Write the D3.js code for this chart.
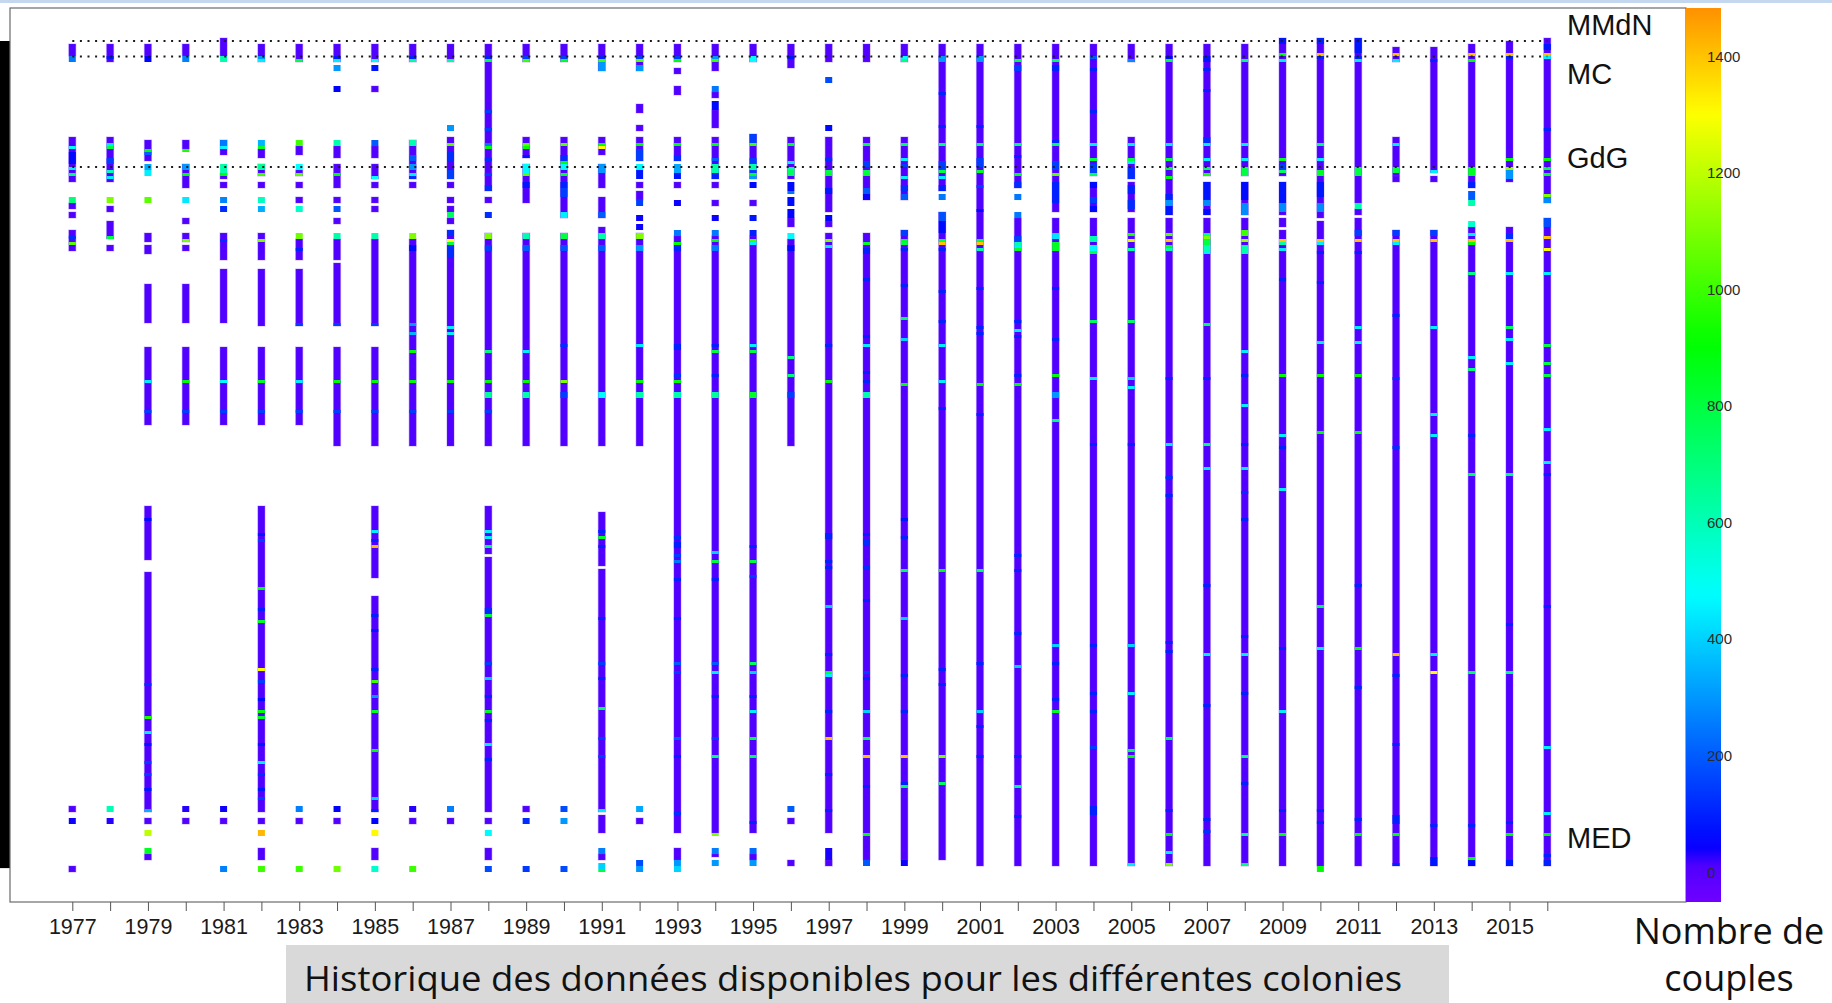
<!DOCTYPE html>
<html>
<head>
<meta charset="utf-8">
<script src="https://cdn.jsdelivr.net/npm/d3@7"></script>
<style>
  body { margin: 0; background: #fff; }
  svg { display: block; }
</style>
</head>
<body>
<svg width="1832" height="1003"></svg>
<script>
// years on the x axis (one column each)
const years = [1977,1978,1979,1980,1981,1982,1983,1984,1985,1986,1987,1988,1989,1990,1991,1992,1993,1994,1995,1996,
               1997,1998,1999,2000,2001,2002,2003,2004,2005,2006,2007,2008,2009,2010,2011,2012,2013,2014,2015,2016];

// colonies are rows 0..278 (ordered north -> south)
const ROWS = 278;

// base coverage: [year, firstRow, lastRow(excl), couples]
const coverage = [
  [1977,2,6,10],[1977,33,48,10],[1977,55,57,10],[1977,58,60,10],[1977,64,71,10],[1977,256,258,10],[1977,276,278,10],
  [1978,2,8,10],[1978,33,48,10],[1978,56,58,10],[1978,61,67,10],[1978,69,71,10],
  [1979,2,6,10],[1979,34,41,10],[1979,65,68,10],[1979,69,72,10],[1979,82,95,10],[1979,103,129,10],[1979,156,174,10],[1979,178,258,10],[1979,260,262,10],[1979,272,274,10],
  [1980,2,6,10],[1980,34,37,10],[1980,42,50,10],[1980,60,62,10],[1980,65,68,10],[1980,69,71,10],[1980,82,95,10],[1980,103,129,10],[1980,260,262,10],
  [1981,0,6,10],[1981,34,39,10],[1981,45,47,10],[1981,48,50,10],[1981,65,74,10],[1981,77,95,10],[1981,103,129,10],[1981,260,262,10],
  [1982,2,8,10],[1982,37,40,10],[1982,42,46,10],[1982,48,50,10],[1982,65,74,10],[1982,77,96,10],[1982,103,129,10],[1982,156,258,10],[1982,260,262,10],[1982,270,274,10],
  [1983,2,8,10],[1983,36,39,10],[1983,44,46,10],[1983,48,50,10],[1983,53,55,10],[1983,67,74,10],[1983,77,96,10],[1983,103,129,10],[1983,260,262,10],
  [1984,2,8,10],[1984,36,40,10],[1984,42,50,10],[1984,53,55,10],[1984,60,62,10],[1984,67,74,10],[1984,75,96,10],[1984,103,136,10],[1984,260,262,10],
  [1985,2,8,10],[1985,16,18,10],[1985,36,40,10],[1985,42,47,10],[1985,48,50,10],[1985,53,55,10],[1985,56,58,10],[1985,67,96,10],[1985,103,136,10],[1985,156,180,10],[1985,186,258,10],[1985,270,274,10],
  [1986,2,8,10],[1986,34,47,10],[1986,48,50,10],[1986,67,136,10],[1986,260,262,10],
  [1987,2,8,10],[1987,33,47,10],[1987,48,50,10],[1987,53,55,10],[1987,56,58,10],[1987,60,62,10],[1987,64,136,10],[1987,260,262,10],
  [1988,2,51,10],[1988,53,55,10],[1988,65,136,10],[1988,156,172,10],[1988,173,258,10],[1988,260,262,10],[1988,270,274,10],
  [1989,2,8,10],[1989,33,40,10],[1989,42,55,10],[1989,65,136,10],[1989,256,258,10],
  [1990,2,8,10],[1990,33,60,10],[1990,65,136,10],
  [1991,2,11,10],[1991,33,39,10],[1991,42,50,10],[1991,53,60,10],[1991,63,136,10],[1991,158,176,10],[1991,177,258,10],[1991,259,265,10],[1991,272,274,10],
  [1992,2,11,10],[1992,22,25,10],[1992,29,31,10],[1992,33,41,10],[1992,48,50,10],[1992,51,54,10],[1992,65,136,10],[1992,260,262,10],
  [1993,2,8,10],[1993,10,12,10],[1993,16,19,10],[1993,33,41,10],[1993,48,50,10],[1993,66,265,10],[1993,270,274,10],
  [1994,2,11,10],[1994,18,20,10],[1994,24,30,10],[1994,33,47,10],[1994,48,50,10],[1994,54,56,10],[1994,66,265,10],[1994,272,273,10],
  [1995,2,8,10],[1995,32,47,10],[1995,54,56,10],[1995,66,265,10],[1995,272,274,10],
  [1996,2,10,10],[1996,33,47,10],[1996,60,63,10],[1996,67,136,10],[1996,260,262,10],[1996,274,276,10],
  [1997,2,8,10],[1997,33,58,10],[1997,61,63,10],[1997,65,265,10],[1997,274,276,10],
  [1998,2,8,10],[1998,33,54,10],[1998,65,274,10],
  [1999,2,8,10],[1999,33,54,10],[1999,64,274,10],
  [2000,2,51,10],[2000,58,274,10],
  [2001,2,276,10],
  [2002,2,50,10],[2002,60,276,10],
  [2003,2,58,10],[2003,60,276,10],
  [2004,2,46,10],[2004,48,58,10],[2004,60,276,10],
  [2005,2,8,10],[2005,33,47,10],[2005,48,58,10],[2005,60,276,10],
  [2006,2,59,10],[2006,60,276,10],
  [2007,2,46,10],[2007,48,59,10],[2007,60,276,10],
  [2008,2,46,10],[2008,48,59,10],[2008,60,276,10],
  [2009,0,46,10],[2009,48,59,10],[2009,60,63,10],[2009,64,276,10],
  [2010,0,60,10],[2010,61,276,10],
  [2011,0,55,10],[2011,57,59,10],[2011,60,276,10],
  [2012,3,8,10],[2012,33,46,10],[2012,46,48,10],[2012,64,276,10],
  [2013,3,45,10],[2013,46,48,10],[2013,64,276,10],
  [2014,2,50,10],[2014,63,276,10],
  [2015,1,48,10],[2015,63,276,10],
  [2016,0,55,10],[2016,60,276,10]
];

// colonies / years with notable counts: [year, firstRow, lastRow(excl), couples]
const counts = [
  [1977,6,8,250],[1977,36,37,500],[1977,38,42,60],[1977,43,44,450],[1977,45,46,700],[1977,53,55,700],[1977,66,67,120],[1977,68,69,1050],[1977,260,262,40],
  [1978,6,7,80],[1978,35,36,450],[1978,36,37,800],[1978,40,42,150],[1978,44,45,600],[1978,46,47,450],[1978,53,55,1100],[1978,66,67,800],[1978,256,258,600],[1978,260,262,30],
  [1979,6,8,50],[1979,37,38,900],[1979,38,39,200],[1979,42,44,330],[1979,44,46,450],[1979,53,55,1050],[1979,114,115,450],[1979,124,125,150],[1979,160,161,60],[1979,215,216,120],[1979,226,227,950],[1979,231,232,450],[1979,235,236,80],[1979,241,242,150],[1979,245,246,150],[1979,250,251,80],[1979,257,258,350],[1979,264,266,1200],[1979,270,272,850],
  [1980,6,8,260],[1980,37,38,950],[1980,42,44,300],[1980,45,46,900],[1980,53,55,440],[1980,67,68,1100],[1980,114,115,900],[1980,124,125,150],[1980,256,258,30],
  [1981,6,8,620],[1981,34,36,250],[1981,36,37,460],[1981,42,45,620],[1981,45,46,900],[1981,53,55,270],[1981,56,58,120],[1981,67,68,120],[1981,114,115,480],[1981,124,125,150],[1981,256,258,40],[1981,276,278,260],
  [1982,6,7,300],[1982,7,8,450],[1982,34,36,350],[1982,36,37,850],[1982,42,44,650],[1982,45,46,1000],[1982,53,55,580],[1982,56,58,340],[1982,67,68,1100],[1982,114,115,850],[1982,124,125,150],[1982,165,166,80],[1982,167,168,150],[1982,183,184,900],[1982,190,191,100],[1982,194,195,850],[1982,210,211,1300],[1982,214,215,150],[1982,220,221,60],[1982,224,225,900],[1982,226,227,850],[1982,235,236,80],[1982,241,242,450],[1982,245,246,120],[1982,250,251,80],[1982,253,254,150],[1982,264,266,1420],[1982,276,278,1000],
  [1983,7,8,800],[1983,34,36,1000],[1983,42,44,480],[1983,45,46,1050],[1983,56,58,560],[1983,65,67,1080],[1983,70,71,100],[1983,95,96,150],[1983,114,115,450],[1983,124,125,150],[1983,256,258,260],[1983,276,278,1000],
  [1984,6,7,80],[1984,7,8,450],[1984,9,11,300],[1984,16,18,45],[1984,34,36,620],[1984,45,46,900],[1984,56,58,190],[1984,65,67,620],[1984,95,96,150],[1984,114,115,900],[1984,124,125,150],[1984,256,258,45],[1984,276,278,1080],
  [1985,7,8,500],[1985,9,11,80],[1985,34,36,200],[1985,46,47,480],[1985,65,67,620],[1985,95,96,150],[1985,114,115,900],[1985,124,125,150],[1985,164,165,450],[1985,167,168,100],[1985,169,170,1420],[1985,192,193,100],[1985,197,198,80],[1985,210,211,100],[1985,214,215,1000],[1985,219,220,300],[1985,224,225,850],[1985,237,238,900],[1985,253,254,400],[1985,257,258,100],[1985,260,262,50],[1985,264,266,1310],[1985,276,278,560],
  [1986,6,7,100],[1986,7,8,650],[1986,34,36,620],[1986,39,41,200],[1986,42,44,300],[1986,45,46,450],[1986,46,47,120],[1986,65,67,1100],[1986,69,71,60],[1986,95,96,300],[1986,98,99,350],[1986,104,105,900],[1986,114,115,900],[1986,124,125,150],[1986,256,258,30],[1986,276,278,1000],
  [1987,7,8,650],[1987,29,31,300],[1987,35,36,1050],[1987,38,41,120],[1987,44,47,150],[1987,58,60,750],[1987,64,66,120],[1987,67,68,1300],[1987,68,69,800],[1987,69,73,120],[1987,96,97,450],[1987,98,99,450],[1987,114,115,900],[1987,124,125,150],[1987,256,258,260],
  [1988,6,7,100],[1988,7,8,800],[1988,24,25,150],[1988,30,31,150],[1988,35,36,250],[1988,36,37,900],[1988,40,41,120],[1988,45,46,150],[1988,49,51,120],[1988,58,60,120],[1988,65,67,1100],[1988,69,71,150],[1988,104,105,700],[1988,114,115,900],[1988,118,120,650],[1988,124,125,150],[1988,164,165,450],[1988,166,167,450],[1988,169,170,700],[1988,190,192,120],[1988,192,193,800],[1988,208,209,150],[1988,213,214,400],[1988,219,220,100],[1988,224,225,850],[1988,227,228,100],[1988,235,236,450],[1988,240,241,100],[1988,264,266,470],[1988,276,278,170],
  [1989,6,7,150],[1989,7,8,1000],[1989,35,36,1050],[1989,36,37,900],[1989,39,40,80],[1989,42,45,470],[1989,45,46,1050],[1989,48,50,80],[1989,65,67,620],[1989,69,71,200],[1989,104,105,450],[1989,114,115,900],[1989,118,120,620],[1989,260,262,120],[1989,276,278,140],
  [1990,6,7,150],[1990,7,8,850],[1990,35,36,1050],[1990,39,41,120],[1990,41,42,900],[1990,42,44,470],[1990,45,46,850],[1990,48,50,100],[1990,50,53,150],[1990,58,60,450],[1990,65,67,800],[1990,69,71,180],[1990,102,103,120],[1990,114,115,1100],[1990,118,120,150],[1990,256,258,170],[1990,260,262,300],[1990,276,278,170],
  [1991,6,7,100],[1991,7,8,1000],[1991,8,11,300],[1991,35,36,900],[1991,36,37,1300],[1991,42,45,300],[1991,58,60,200],[1991,65,67,620],[1991,69,71,200],[1991,118,120,470],[1991,164,165,100],[1991,166,167,850],[1991,169,170,100],[1991,193,194,100],[1991,208,209,150],[1991,213,214,100],[1991,223,224,750],[1991,233,234,150],[1991,239,240,150],[1991,257,258,450],[1991,270,272,260],[1991,275,277,400],[1991,277,278,800],
  [1992,6,7,150],[1992,7,8,1050],[1992,9,11,300],[1992,35,36,900],[1992,37,41,150],[1992,42,44,470],[1992,44,47,80],[1992,54,56,150],[1992,59,61,40],[1992,62,64,40],[1992,65,67,1100],[1992,69,71,300],[1992,102,103,450],[1992,114,115,900],[1992,118,120,620],[1992,256,258,330],[1992,274,276,170],[1992,276,278,300],
  [1993,6,7,150],[1993,7,8,900],[1993,35,36,900],[1993,39,41,120],[1993,42,45,330],[1993,45,47,80],[1993,54,56,40],[1993,64,66,250],[1993,68,69,900],[1993,69,71,100],[1993,102,104,100],[1993,112,113,120],[1993,114,115,900],[1993,118,120,620],[1993,166,167,120],[1993,168,170,100],[1993,172,173,150],[1993,174,175,250],[1993,180,181,100],[1993,193,194,100],[1993,208,209,200],[1993,211,212,150],[1993,233,234,200],[1993,239,240,100],[1993,258,259,120],[1993,274,276,300],[1993,276,278,400],
  [1994,6,7,300],[1994,7,8,1000],[1994,16,18,250],[1994,21,24,60],[1994,35,36,900],[1994,40,41,200],[1994,42,45,620],[1994,45,47,100],[1994,59,61,40],[1994,64,66,250],[1994,67,68,900],[1994,69,71,250],[1994,102,103,100],[1994,104,105,800],[1994,112,113,100],[1994,118,120,650],[1994,171,172,400],[1994,174,175,800],[1994,180,181,100],[1994,208,209,200],[1994,211,212,450],[1994,219,220,100],[1994,233,234,150],[1994,239,240,700],[1994,265,266,1100],[1994,270,272,260],[1994,274,276,300],
  [1995,6,8,480],[1995,32,35,150],[1995,35,36,1000],[1995,40,42,150],[1995,42,44,620],[1995,44,45,150],[1995,45,46,850],[1995,46,47,300],[1995,48,50,60],[1995,59,61,80],[1995,64,66,100],[1995,67,68,1000],[1995,68,69,450],[1995,102,103,450],[1995,104,105,800],[1995,118,120,850],[1995,169,170,100],[1995,174,175,800],[1995,179,180,150],[1995,208,209,750],[1995,211,212,400],[1995,219,220,100],[1995,224,225,450],[1995,233,234,800],[1995,239,240,750],[1995,261,262,100],[1995,270,272,230],[1995,274,276,300],
  [1996,6,7,80],[1996,35,36,850],[1996,41,42,450],[1996,43,44,620],[1996,44,46,750],[1996,48,51,60],[1996,51,52,250],[1996,53,56,60],[1996,57,60,50],[1996,65,67,470],[1996,69,71,60],[1996,106,107,700],[1996,112,113,700],[1996,118,120,150],[1996,256,258,200],
  [1997,13,15,170],[1997,29,31,60],[1997,40,41,120],[1997,44,45,800],[1997,45,46,850],[1997,50,52,80],[1997,59,61,50],[1997,67,68,1100],[1997,69,70,450],[1997,102,103,100],[1997,114,115,900],[1997,165,167,100],[1997,174,175,100],[1997,176,177,100],[1997,189,190,400],[1997,205,206,100],[1997,211,212,800],[1997,212,213,450],[1997,224,225,100],[1997,233,234,1400],[1997,245,246,100],[1997,257,258,100],[1997,270,274,35],
  [1998,35,36,800],[1998,41,43,150],[1998,44,45,800],[1998,45,46,850],[1998,50,52,200],[1998,52,54,40],[1998,68,69,850],[1998,70,72,100],[1998,80,81,100],[1998,99,100,100],[1998,102,103,450],[1998,111,112,100],[1998,114,115,100],[1998,118,120,620],[1998,165,166,100],[1998,167,169,120],[1998,176,177,120],[1998,187,188,100],[1998,211,212,150],[1998,213,214,100],[1998,224,225,400],[1998,233,234,750],[1998,239,240,1400],[1998,249,250,100],[1998,265,266,900],[1998,274,276,190],
  [1999,6,7,480],[1999,7,8,700],[1999,35,36,750],[1999,40,41,450],[1999,42,43,150],[1999,46,47,450],[1999,49,51,120],[1999,52,54,200],[1999,64,66,150],[1999,67,68,850],[1999,68,69,800],[1999,70,71,100],[1999,82,83,100],[1999,93,94,750],[1999,100,101,400],[1999,115,116,900],[1999,160,161,80],[1999,166,167,100],[1999,177,178,750],[1999,193,194,400],[1999,212,213,100],[1999,224,225,100],[1999,239,240,1400],[1999,248,249,100],[1999,249,250,750],[1999,274,276,40],
  [2000,6,8,300],[2000,18,19,100],[2000,29,30,100],[2000,35,36,700],[2000,41,44,150],[2000,44,45,800],[2000,46,47,450],[2000,49,51,100],[2000,52,54,250],[2000,58,61,180],[2000,61,65,60],[2000,67,68,800],[2000,68,69,1400],[2000,70,71,100],[2000,84,85,100],[2000,94,95,100],[2000,102,103,450],[2000,114,115,450],[2000,123,124,100],[2000,177,178,900],[2000,210,211,100],[2000,215,216,100],[2000,239,240,1100],[2000,248,249,750],
  [2001,6,8,300],[2001,29,30,100],[2001,35,36,700],[2001,40,43,150],[2001,44,45,850],[2001,49,50,150],[2001,57,58,60],[2001,67,68,800],[2001,68,69,1400],[2001,70,71,620],[2001,83,84,100],[2001,96,97,100],[2001,98,99,100],[2001,115,116,900],[2001,125,126,100],[2001,177,178,750],[2001,208,209,100],[2001,224,225,400],[2001,229,230,100],[2001,239,240,100],
  [2002,7,8,800],[2002,9,11,150],[2002,35,36,700],[2002,39,40,100],[2002,45,46,850],[2002,48,50,120],[2002,52,54,250],[2002,58,60,250],[2002,66,68,150],[2002,68,69,620],[2002,69,70,450],[2002,70,71,850],[2002,94,95,100],[2002,97,98,450],[2002,99,100,100],[2002,112,113,100],[2002,115,116,900],[2002,172,173,100],[2002,177,178,100],[2002,198,199,100],[2002,209,210,400],[2002,239,240,100],[2002,249,250,650],[2002,259,260,100],
  [2003,7,8,750],[2003,9,11,100],[2003,34,35,100],[2003,35,36,750],[2003,41,44,150],[2003,45,46,1050],[2003,48,55,100],[2003,65,67,430],[2003,68,71,850],[2003,83,84,100],[2003,100,101,100],[2003,112,113,900],[2003,118,120,300],[2003,127,128,700],[2003,202,203,400],[2003,208,209,100],[2003,220,221,100],[2003,224,225,850],
  [2004,6,7,200],[2004,10,11,100],[2004,24,25,100],[2004,35,36,450],[2004,40,41,800],[2004,42,45,150],[2004,45,46,750],[2004,48,50,60],[2004,53,55,150],[2004,56,58,60],[2004,66,68,620],[2004,69,71,470],[2004,71,72,800],[2004,94,95,750],[2004,113,114,450],[2004,135,136,100],[2004,202,203,100],[2004,218,219,100],[2004,224,225,100],[2004,236,237,150],[2004,256,259,100],
  [2005,7,8,280],[2005,35,36,450],[2005,40,41,800],[2005,41,42,450],[2005,43,47,120],[2005,49,52,100],[2005,54,57,120],[2005,65,66,950],[2005,67,68,1250],[2005,70,71,620],[2005,94,95,750],[2005,113,114,400],[2005,116,117,450],[2005,135,136,100],[2005,202,203,400],[2005,218,219,450],[2005,237,238,750],[2005,239,240,900],[2005,275,276,450],
  [2006,6,7,60],[2006,7,8,800],[2006,35,36,450],[2006,40,41,800],[2006,43,44,850],[2006,46,47,900],[2006,52,54,100],[2006,54,56,300],[2006,56,59,80],[2006,65,66,1050],[2006,67,68,1400],[2006,69,70,850],[2006,70,71,620],[2006,113,114,100],[2006,135,136,450],[2006,146,147,120],[2006,152,153,100],[2006,201,202,100],[2006,204,205,100],[2006,233,234,750],[2006,257,258,100],[2006,265,266,900],[2006,271,272,450],[2006,275,276,1100],
  [2007,6,8,80],[2007,10,11,100],[2007,17,18,100],[2007,33,35,120],[2007,35,36,450],[2007,40,41,450],[2007,43,44,750],[2007,45,46,950],[2007,48,54,80],[2007,54,56,280],[2007,57,59,60],[2007,65,66,650],[2007,66,67,1100],[2007,67,69,800],[2007,69,71,600],[2007,71,72,450],[2007,95,96,750],[2007,113,114,100],[2007,135,136,700],[2007,143,144,450],[2007,182,183,100],[2007,205,206,450],[2007,222,223,100],[2007,260,261,100],[2007,264,265,120],
  [2008,7,8,700],[2008,35,36,450],[2008,40,41,450],[2008,43,46,800],[2008,48,54,60],[2008,55,59,280],[2008,64,66,1000],[2008,67,68,1150],[2008,69,72,620],[2008,104,105,450],[2008,112,113,100],[2008,122,123,450],[2008,135,136,100],[2008,143,144,450],[2008,151,152,120],[2008,160,161,100],[2008,199,200,100],[2008,205,206,450],[2008,218,219,100],[2008,239,240,700],[2008,248,249,100],[2008,265,266,650],[2008,275,276,700],
  [2009,0,2,80],[2009,5,6,900],[2009,7,8,450],[2009,40,41,850],[2009,42,44,150],[2009,44,45,750],[2009,48,55,80],[2009,55,58,280],[2009,67,68,1400],[2009,68,69,620],[2009,70,71,450],[2009,80,81,100],[2009,112,113,900],[2009,132,133,450],[2009,136,137,100],[2009,150,151,450],[2009,203,204,100],[2009,224,225,450],[2009,257,258,100],[2009,265,266,900],
  [2010,0,2,100],[2010,5,6,1400],[2010,6,7,100],[2010,35,36,700],[2010,40,41,450],[2010,44,46,850],[2010,48,53,80],[2010,55,58,280],[2010,67,68,1400],[2010,68,69,450],[2010,71,72,100],[2010,81,82,100],[2010,101,102,450],[2010,112,113,900],[2010,131,132,900],[2010,189,190,750],[2010,203,204,450],[2010,257,258,100],[2010,261,262,100],[2010,276,278,900],
  [2011,0,5,80],[2011,6,7,100],[2011,7,8,450],[2011,43,46,800],[2011,55,57,620],[2011,64,66,150],[2011,67,68,1400],[2011,71,72,100],[2011,96,97,450],[2011,101,102,450],[2011,112,113,900],[2011,131,132,900],[2011,182,183,100],[2011,203,204,900],[2011,216,217,100],[2011,260,261,100],[2011,265,266,900],
  [2012,5,6,1400],[2012,7,8,450],[2012,35,36,450],[2012,43,45,800],[2012,64,66,150],[2012,67,68,1400],[2012,68,69,450],[2012,92,93,100],[2012,113,114,120],[2012,136,137,120],[2012,205,206,1400],[2012,212,213,100],[2012,235,236,100],[2012,259,262,100],[2012,265,266,900],[2012,275,276,100],
  [2013,7,8,100],[2013,44,45,450],[2013,64,66,150],[2013,67,68,1400],[2013,96,97,450],[2013,125,126,450],[2013,132,133,450],[2013,205,206,450],[2013,211,212,1300],[2013,262,263,100],[2013,273,276,80],
  [2014,5,6,1400],[2014,7,8,900],[2014,43,46,850],[2014,48,50,100],[2014,51,54,200],[2014,54,56,620],[2014,61,63,560],[2014,65,66,450],[2014,67,68,1400],[2014,68,69,900],[2014,78,79,700],[2014,106,107,450],[2014,110,111,700],[2014,132,133,100],[2014,145,146,750],[2014,211,212,750],[2014,262,263,100],[2014,273,274,900],[2014,274,276,60],
  [2015,5,6,1400],[2015,6,7,100],[2015,40,41,900],[2015,43,44,1150],[2015,44,47,300],[2015,65,67,120],[2015,67,68,1400],[2015,78,79,450],[2015,96,97,750],[2015,100,101,450],[2015,108,109,450],[2015,145,146,700],[2015,195,196,100],[2015,211,212,700],[2015,261,262,100],[2015,265,266,900],[2015,274,276,80],
  [2016,2,4,80],[2016,5,6,1400],[2016,6,7,450],[2016,30,31,100],[2016,40,41,900],[2016,43,44,800],[2016,45,46,850],[2016,52,53,1100],[2016,53,55,280],[2016,60,63,180],[2016,66,67,1400],[2016,70,71,1300],[2016,78,79,450],[2016,102,103,800],[2016,108,109,800],[2016,112,113,800],[2016,130,131,450],[2016,141,142,450],[2016,145,146,100],[2016,189,190,100],[2016,236,237,450],[2016,258,259,450],[2016,265,266,900],[2016,272,273,100],[2016,274,276,100]
];

// group separators (row boundaries) and region labels
const groupLines = [1, 6.2, 43];
const groupNames = ['MMdN', 'MC', 'GdG', 'MED'];
const groupLabelRows = [-1, 15.3, 43.3, 270];

// colour bar
const colorTicks = [0, 200, 400, 600, 800, 1000, 1200, 1400];
const colorDomain = [-51, 1483];

const svg = d3.select('svg');

const x = d3.scaleLinear().domain([1977, 2016]).range([72.3, 1547.3]);
const y = d3.scaleLinear().domain([0, ROWS]).range([38, 872]);
const CELL_W = 7;

// rainbow (HSV hue) colour scale: low = violet, high = orange
const hue = d3.scaleLinear()
  .domain([-51, 10, 45, 477, 907, 1302, 1483])
  .range([266, 259, 240, 180, 120, 60, 34])
  .clamp(true);
const colour = v => d3.hsl(hue(v), 1, 0.5).formatHex();

// top strip of the slide
svg.append('rect').attr('x', 0).attr('y', 0).attr('width', 1832).attr('height', 3).attr('fill', '#c3d8ee');

// black side bar
svg.append('rect').attr('x', 0).attr('y', y(1)).attr('width', 10).attr('height', y(ROWS - 1.3) - y(1)).attr('fill', '#000');

// plot frame
svg.append('rect')
  .attr('x', 10).attr('y', 8).attr('width', 1676).attr('height', 894)
  .attr('fill', '#fff').attr('stroke', '#6b6b6b').attr('stroke-width', 1.2);

const plot = svg.append('g');

// base coverage
plot.selectAll('.cov')
  .data(coverage)
  .join('rect')
  .attr('class', 'cov')
  .attr('x', d => x(d[0]) - CELL_W / 2)
  .attr('y', d => y(d[1]))
  .attr('width', CELL_W)
  .attr('height', d => y(d[2]) - y(d[1]))
  .attr('fill', d => colour(d[3]))
  .attr('stroke', 'rgba(110,60,255,0.3)')
  .attr('stroke-width', 1.2);

// notable counts
plot.selectAll('.cnt')
  .data(counts)
  .join('rect')
  .attr('class', 'cnt')
  .attr('x', d => x(d[0]) - CELL_W / 2)
  .attr('y', d => y(d[1]))
  .attr('width', CELL_W)
  .attr('height', d => y(d[2]) - y(d[1]))
  .attr('fill', d => colour(d[3]));

// dotted group lines
plot.selectAll('.sep')
  .data(groupLines)
  .join('line')
  .attr('x1', x(1977)).attr('x2', x(2016))
  .attr('y1', d => y(d)).attr('y2', d => y(d))
  .attr('stroke', '#1a1a1a')
  .attr('stroke-width', 2)
  .attr('stroke-dasharray', '2,5.6');

// group labels
svg.selectAll('.grp')
  .data(groupNames)
  .join('text')
  .attr('x', 1567)
  .attr('y', (d, i) => y(groupLabelRows[i]))
  .attr('font-family', 'Liberation Sans, Arial, sans-serif')
  .attr('font-size', 29)
  .attr('fill', '#111')
  .text(d => d);

// x axis
const xAxis = svg.append('g')
  .attr('transform', 'translate(0,902)')
  .call(d3.axisBottom(x).tickValues(years).tickSize(9).tickPadding(8)
    .tickFormat(d => d % 2 === 1 ? d : ''));
xAxis.select('.domain').remove();
xAxis.selectAll('line').attr('stroke', '#555');
xAxis.selectAll('text')
  .attr('font-family', 'Liberation Sans, Arial, sans-serif')
  .attr('font-size', 21.5)
  .attr('fill', '#1a1a1a');

// colour bar
const cb = d3.scaleLinear().domain(colorDomain).range([902, 8]);
const grad = svg.append('defs').append('linearGradient')
  .attr('id', 'cbar').attr('x1', 0).attr('x2', 0).attr('y1', 1).attr('y2', 0);
grad.selectAll('stop')
  .data(d3.range(0, 1.0001, 0.02))
  .join('stop')
  .attr('offset', t => t)
  .attr('stop-color', t => colour(colorDomain[0] + t * (colorDomain[1] - colorDomain[0])));
svg.append('rect')
  .attr('x', 1686).attr('y', cb(colorDomain[1]))
  .attr('width', 35).attr('height', cb(colorDomain[0]) - cb(colorDomain[1]))
  .attr('fill', 'url(#cbar)');

svg.selectAll('.cbt')
  .data(colorTicks)
  .join('text')
  .attr('x', 1707)
  .attr('y', d => cb(d))
  .attr('dy', '0.35em')
  .attr('font-family', 'Liberation Sans, Arial, sans-serif')
  .attr('font-size', 15)
  .attr('fill', '#2a2a2a')
  .text(d => d);

// legend title
svg.append('text')
  .attr('x', 1729).attr('y', 944)
  .attr('text-anchor', 'middle')
  .attr('font-family', 'Open Sans, sans-serif')
  .attr('font-size', 36)
  .attr('fill', '#111')
  .text('Nombre de');
svg.append('text')
  .attr('x', 1729).attr('y', 991)
  .attr('text-anchor', 'middle')
  .attr('font-family', 'Open Sans, sans-serif')
  .attr('font-size', 36)
  .attr('fill', '#111')
  .text('couples');

// caption
svg.append('rect')
  .attr('x', 286).attr('y', 945).attr('width', 1163).attr('height', 58)
  .attr('fill', '#d9d9d9');
svg.append('text')
  .attr('x', 304).attr('y', 991)
  .attr('font-family', 'Open Sans, sans-serif')
  .attr('font-size', 35)
  .attr('fill', '#111')
  .attr('textLength', 1098)
  .attr('lengthAdjust', 'spacingAndGlyphs')
  .text('Historique des données disponibles pour les différentes colonies');
</script>
</body>
</html>
